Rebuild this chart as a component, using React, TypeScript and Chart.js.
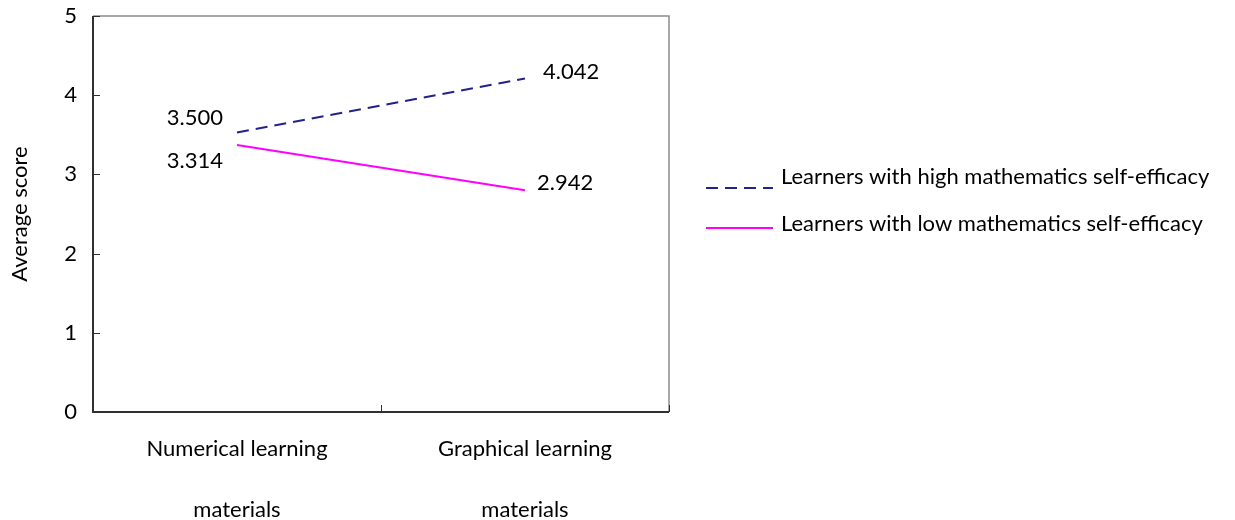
import React, { useEffect, useRef } from "react";
import { Chart, registerables } from "chart.js";

Chart.register(...registerables);

// ---- data ----
const categories: string[][] = [
  ["Numerical learning", "materials"],
  ["Graphical learning", "materials"],
];
const highSeriesName = "Learners with high mathematics self-efficacy";
const lowSeriesName = "Learners with low mathematics self-efficacy";
const highValues = [3.53, 4.21];
const lowValues = [3.37, 2.8];
const highLabels = ["3.500", "4.042"];
const lowLabels = ["3.314", "2.942"];
const yTicks = [0, 1, 2, 3, 4, 5];
const yTitle = "Average score";

// ---- styles ----
const FONT = "Lato";
const FS = 22;
const highColor = "#22228c";
const lowColor = "#ff00ff";
// label placement relative to each point: [dx, dy, align]
const highLabelPos: [number, number, CanvasTextAlign][] = [
  [-14, -15, "right"],
  [18, -7, "left"],
];
const lowLabelPos: [number, number, CanvasTextAlign][] = [
  [-14, 16, "right"],
  [12, -7, "left"],
];
// legend layout (relative to chart area)
const LEGEND_DX = 37;
const LEGEND_LINE = 67;
const LEGEND_TEXT_GAP = 8;
const LEGEND_ROW0 = 161;
const LEGEND_ROW_GAP = 47;
const LEGEND_LINE_DY = [11, 4];

const framePlugin = {
  id: "frame",
  beforeDatasetsDraw(chart: any) {
    const { ctx, chartArea: a, scales } = chart;
    ctx.save();
    ctx.strokeStyle = "#8c8c8c";
    ctx.lineWidth = 1.5;
    ctx.beginPath();
    ctx.moveTo(a.left, a.top);
    ctx.lineTo(a.right, a.top);
    ctx.lineTo(a.right, a.bottom);
    ctx.stroke();
    ctx.strokeStyle = "#303030";
    ctx.lineWidth = 2;
    ctx.beginPath();
    ctx.moveTo(a.left, a.top);
    ctx.lineTo(a.left, a.bottom);
    ctx.lineTo(a.right, a.bottom);
    ctx.stroke();
    ctx.lineWidth = 1;
    const ys = scales.y;
    ys.ticks.forEach((_t: any, i: number) => {
      const py = Math.round(ys.getPixelForTick(i)) + 0.5;
      ctx.beginPath();
      ctx.moveTo(a.left, py);
      ctx.lineTo(a.left + 7, py);
      ctx.stroke();
    });
    const xs = scales.x;
    for (let i = 0; i <= categories.length; i++) {
      const px = Math.round(xs.getPixelForValue(i - 0.5)) + 0.5;
      ctx.beginPath();
      ctx.moveTo(px, a.bottom);
      ctx.lineTo(px, a.bottom - 7);
      ctx.stroke();
    }
    ctx.restore();
  },
};

const labelPlugin = {
  id: "pointLabels",
  afterDatasetsDraw(chart: any) {
    const { ctx } = chart;
    const sets = [
      { labels: highLabels, pos: highLabelPos },
      { labels: lowLabels, pos: lowLabelPos },
    ];
    ctx.save();
    ctx.font = `${FS}px ${FONT}`;
    ctx.fillStyle = "#000";
    ctx.textBaseline = "middle";
    sets.forEach((s, di) => {
      const meta = chart.getDatasetMeta(di);
      meta.data.forEach((pt: any, i: number) => {
        const [dx, dy, al] = s.pos[i];
        ctx.textAlign = al;
        ctx.fillText(s.labels[i], pt.x + dx, pt.y + dy);
      });
    });
    ctx.restore();
  },
};

const legendPlugin = {
  id: "sideLegend",
  afterDraw(chart: any) {
    const { ctx, chartArea: a } = chart;
    const x0 = a.right + LEGEND_DX;
    ctx.save();
    chart.data.datasets.forEach((ds: any, i: number) => {
      const ty = a.top + LEGEND_ROW0 + i * LEGEND_ROW_GAP;
      const ly = ty + LEGEND_LINE_DY[i];
      ctx.strokeStyle = ds.borderColor;
      ctx.lineWidth = ds.borderWidth;
      ctx.setLineDash(ds.borderDash || []);
      ctx.beginPath();
      ctx.moveTo(x0, ly);
      ctx.lineTo(x0 + LEGEND_LINE, ly);
      ctx.stroke();
      ctx.setLineDash([]);
      ctx.font = `${FS}px ${FONT}`;
      ctx.fillStyle = "#000";
      ctx.textAlign = "left";
      ctx.textBaseline = "middle";
      ctx.fillText(ds.label, x0 + LEGEND_LINE + LEGEND_TEXT_GAP, ty);
    });
    ctx.restore();
  },
};

export default function App() {
  const ref = useRef<HTMLCanvasElement>(null);
  useEffect(() => {
    if (!ref.current) return;
    Chart.defaults.font.family = FONT;
    Chart.defaults.color = "#000";
    const chart = new Chart(ref.current, {
      type: "line",
      data: {
        labels: categories,
        datasets: [
          {
            label: highSeriesName,
            data: highValues,
            borderColor: highColor,
            backgroundColor: highColor,
            borderWidth: 2,
            borderDash: [12, 7],
            pointRadius: 0,
            tension: 0,
          },
          {
            label: lowSeriesName,
            data: lowValues,
            borderColor: lowColor,
            backgroundColor: lowColor,
            borderWidth: 2,
            pointRadius: 0,
            tension: 0,
          },
        ],
      },
      options: {
        animation: false,
        responsive: true,
        maintainAspectRatio: false,
        layout: { padding: { top: 16, right: 566, bottom: 0, left: 0 } },
        scales: {
          x: {
            type: "category",
            offset: true,
            grid: { display: false },
            border: { display: false },
            ticks: {
              maxRotation: 0,
              minRotation: 0,
              autoSkip: false,
              padding: -2,
              color: "#000",
              font: { size: FS, lineHeight: 61 / FS },
            },
            afterFit: (s: any) => {
              s.height = 108;
              s.paddingTop = 0;
              s.paddingBottom = 0;
            },
          },
          y: {
            min: 0,
            max: 5,
            grid: { display: false },
            border: { display: false },
            afterBuildTicks: (s: any) => {
              s.ticks = yTicks.map((v) => ({ value: v }));
            },
            ticks: { padding: 8, color: "#000", font: { size: FS } },
            title: {
              display: true,
              text: yTitle,
              color: "#000",
              font: { size: FS },
              padding: { top: 7, bottom: 0 },
            },
            afterFit: (s: any) => {
              s.width = 93;
              s.paddingTop = 0;
              s.paddingBottom = 0;
            },
          },
        },
        plugins: {
          legend: { display: false },
          tooltip: { enabled: false },
        },
      },
      plugins: [framePlugin, labelPlugin, legendPlugin],
    } as any);
    return () => chart.destroy();
  }, []);
  return (
    <div style={{ position: "fixed", left: 0, top: 0, width: 1235, height: 520 }}>
      <canvas ref={ref} />
    </div>
  );
}
